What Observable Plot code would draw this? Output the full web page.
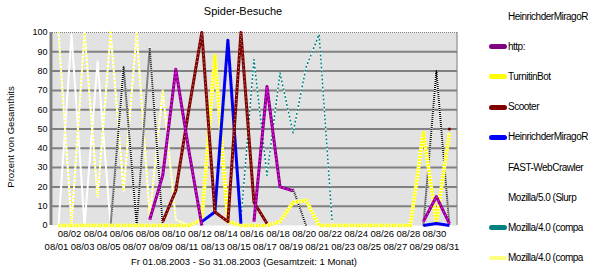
<!DOCTYPE html>
<html>
<head>
<meta charset="utf-8">
<script src="https://cdn.jsdelivr.net/npm/d3@7"></script>
<script src="https://cdn.jsdelivr.net/npm/@observablehq/plot@0.6"></script>
<style>
  html, body { margin: 0; padding: 0; background: #fff; }
  #wrap { position: relative; width: 609px; height: 274px; overflow: hidden;
          font-family: "Liberation Sans", Arial, sans-serif; color: #000; }
  #wrap svg { position: absolute; left: 0; top: 0; }
  .title { position: absolute; left: 0; top: 6px; width: 486px; text-align: center;
           font-size: 11px; line-height: 11px; }
  .caption { position: absolute; left: 0; top: 257px; width: 488px; text-align: center;
             font-size: 9.5px; line-height: 10px; white-space: nowrap; }
  .ytitle { position: absolute; left: -49px; top: 132px; width: 120px; height: 10px;
            text-align: center; font-size: 9.5px; line-height: 10px; white-space: nowrap;
            transform: rotate(-90deg); }
  .lg-text { position: absolute; left: 508px; font-size: 10px; line-height: 10px;
             letter-spacing: -0.5px; white-space: nowrap; }
  .lg-sw { position: absolute; left: 489px; width: 18px; height: 5px; border-radius: 3px; }
</style>
</head>
<body>
<div id="wrap"></div>
<script>
// ---------------- data ----------------
const days = [1,2,3,4,5,6,7,8,9,10,11,12,13,14,15,16,17,18,19,20,21,22,23,24,25,26,27,28,29,30,31];
const dayLabels = ["08/01","08/02","08/03","08/04","08/05","08/06","08/07","08/08","08/09","08/10",
  "08/11","08/12","08/13","08/14","08/15","08/16","08/17","08/18","08/19","08/20","08/21","08/22",
  "08/23","08/24","08/25","08/26","08/27","08/28","08/29","08/30","08/31"];
const yTicks = [0,10,20,30,40,50,60,70,80,90,100];

// percent values per day (null = no entry)
const whiteSeries   = [0,99,0,85,0,null,null,null,null,null,null,null,null,null,null,null,null,null,null,null,null,null,null,null,null,null,null,null,null,null,null];
const mozillaYellow = [100,1,100,15,100,18,100,5,70,3,0,null,null,null,null,null,null,null,null,null,null,null,null,null,null,null,null,null,null,null,null];
const mozillaTeal   = [null,null,null,null,null,null,null,null,null,null,null,null,null,null,3,86,26,79,48,82,99,2,null,null,null,null,null,null,null,null,null];
const blackDotted   = [null,null,null,null,0,82,0,92,0,null,null,null,null,null,null,null,null,null,19,0,null,null,null,null,null,null,null,null,0,80,0];
const turnitinBot   = [0,0,0,0,0,0,0,0,0,0,0,3,88,2,0,0,0,2,12,13,0,0,0,0,0,0,0,0,48,2,48];
const heinrichBlue  = [null,null,null,null,null,null,null,null,null,null,null,2,7,96,1,null,null,null,null,null,null,null,null,null,null,null,null,null,0,1,0];
const scooter       = [null,null,null,null,null,null,null,null,2,18,60,100,7,2,100,12,1,null,null,null,null,null,null,null,null,null,null,null,null,null,50];
const httpSeries    = [null,null,null,null,null,null,null,3,26,81,39,0,null,null,null,2,72,20,18,null,null,null,null,null,null,null,null,null,2,15,1];

const legendNames  = ["HeinrichderMiragoR","http:","TurnitinBot","Scooter","HeinrichderMiragoR",
                      "FAST-WebCrawler","Mozilla/5.0 (Slurp","Mozilla/4.0 (compa","Mozilla/4.0 (compa"];
const legendColors = [null,"#800080","#ffff00","#800000","#0000ff",null,null,"#008080","#ffff80"];

const titleText = "Spider-Besuche";
const yTitleText = "Prozent von Gesamthits";
const captionText = "Fr 01.08.2003 - So 31.08.2003 (Gesamtzeit: 1 Monat)";

// ---------------- helpers ----------------
const toPoints = vals => days.map((d, i) => ({day: d, value: vals[i]}));
const isolated = vals => toPoints(vals).filter((p, i) =>
  p.value != null && (i === 0 || vals[i-1] == null) && (i === vals.length - 1 || vals[i+1] == null));
const layered = (vals, layers) => layers.map(l =>
  Plot.line(toPoints(vals), {x: "day", y: "value", strokeLinejoin: "round", strokeLinecap: "butt", ...l}));

const xDomain = [0.54, 31.62];
const evenDays = days.filter(d => d % 2 === 0);
const oddDays = days.filter(d => d % 2 === 1);

const svg = Plot.plot({
  width: 609, height: 274,
  marginLeft: 52, marginRight: 152, marginTop: 32, marginBottom: 49,
  x: {domain: xDomain},
  y: {domain: [0, 100]},
  style: {fontFamily: '"Liberation Sans", Arial, sans-serif', fontSize: "10px", background: "transparent", color: "#000"},
  marks: [
    Plot.frame({fill: "url(#dots)", stroke: "none"}),
    Plot.ruleY(yTicks.filter(v => v > 0 && v < 100), {stroke: "#808080", strokeWidth: 2}),
    Plot.ruleY([100], {stroke: "#808080", strokeDasharray: "1,1"}),
    Plot.ruleX([xDomain[1]], {stroke: "#808080", dx: -0.5}),
    Plot.ruleX([xDomain[0]], {stroke: "#808080", strokeWidth: 3, dx: -1.5}),
    ...layered(whiteSeries, [{stroke: "#fff", strokeWidth: 2}]),
    ...layered(mozillaYellow, [{stroke: "#fff", strokeWidth: 2}, {stroke: "#ffff00", strokeWidth: 2, strokeDasharray: "1,3"}]),
    ...layered(mozillaTeal, [{stroke: "#fff", strokeWidth: 1.5}, {stroke: "#008080", strokeWidth: 1.5, strokeDasharray: "2,2"}]),
    ...layered(blackDotted, [{stroke: "#fff", strokeWidth: 2}, {stroke: "#000", strokeWidth: 2, strokeDasharray: "1,1"}]),
    ...layered(turnitinBot, [{stroke: "#fff", strokeWidth: 3.5}, {stroke: "#ffff00", strokeWidth: 3.5, strokeDasharray: "2,1"}]),
    ...layered(heinrichBlue, [{stroke: "#0000ff", strokeWidth: 3}, {stroke: "#000080", strokeWidth: 1, strokeDasharray: "1,3"}]),
    ...layered(scooter, [{stroke: "#800000", strokeWidth: 3}, {stroke: "#c0a0a0", strokeWidth: 1, strokeDasharray: "1,3"}]),
    Plot.dot(isolated(scooter), {x: "day", y: "value", r: 1.6, fill: "#800000", stroke: "none"}),
    ...layered(httpSeries, [{stroke: "#800080", strokeWidth: 3}, {stroke: "#ff00ff", strokeWidth: 1.5, strokeDasharray: "2,2"}]),
    Plot.axisY({ticks: yTicks, tickSize: 0, tickPadding: 5, label: null, fontSize: 9}),
    Plot.axisX({ticks: evenDays, tickFormat: d => dayLabels[d-1], tickSize: 0, tickPadding: 5, dx: -2, label: null, fontSize: 9.5}),
    Plot.axisX({ticks: oddDays, tickFormat: d => dayLabels[d-1], tickSize: 0, tickPadding: 18, dx: -2, label: null, fontSize: 9.5})
  ]
});

// dotted background pattern
const ns = "http://www.w3.org/2000/svg";
const defs = document.createElementNS(ns, "defs");
const pat = document.createElementNS(ns, "pattern");
pat.setAttribute("id", "dots");
pat.setAttribute("width", "2");
pat.setAttribute("height", "2");
pat.setAttribute("patternUnits", "userSpaceOnUse");
const dot = document.createElementNS(ns, "rect");
dot.setAttribute("width", "1");
dot.setAttribute("height", "1");
dot.setAttribute("fill", "#8c8c8c");
pat.appendChild(dot);
defs.appendChild(pat);
svg.insertBefore(defs, svg.firstChild);

const wrap = document.getElementById("wrap");
wrap.appendChild(svg);

const addDiv = (cls, text, css) => {
  const el = document.createElement("div");
  el.className = cls;
  if (text != null) el.textContent = text;
  Object.assign(el.style, css || {});
  wrap.appendChild(el);
  return el;
};
addDiv("title", titleText);
addDiv("ytitle", yTitleText);
addDiv("caption", captionText);

legendNames.forEach((name, i) => {
  const cy = 16.5 + i * 30.2;
  if (legendColors[i]) {
    const thin = i === legendNames.length - 1;
    addDiv("lg-sw", null, {top: (cy - (thin ? 2 : 2.5)) + "px", height: (thin ? 4 : 5) + "px", background: legendColors[i]});
  }
  addDiv("lg-text", name, {top: (cy - 5) + "px"});
});
</script>
</body>
</html>
